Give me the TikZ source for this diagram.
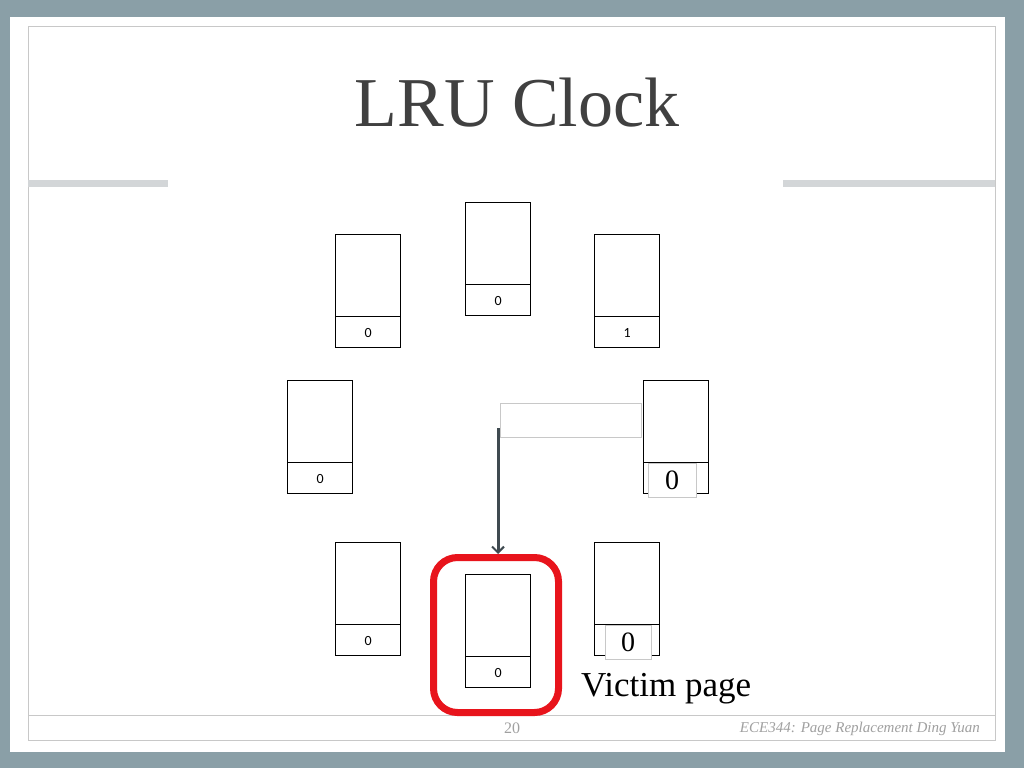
\documentclass[tikz,border=0pt]{standalone}
\usepackage{fontspec}
\setmainfont{Liberation Serif}
\newfontfamily\calib{Carlito}
\usetikzlibrary{arrows.meta}
\definecolor{bgslate}{HTML}{8A9FA7}
\definecolor{framegrey}{HTML}{C8C8C8}
\definecolor{bargrey}{HTML}{D3D6D8}
\definecolor{titlegrey}{HTML}{404040}
\definecolor{handgrey}{HTML}{3F4A50}
\definecolor{selred}{HTML}{E8141C}
\definecolor{footgrey}{HTML}{A0A0A0}
\tikzset{
  pageframe/.style={draw=black, line width=1.2pt, minimum width=65pt, minimum height=113pt, inner sep=0pt, anchor=north west},
  reflabel/.style={font=\calib\fontsize{14}{14}\selectfont, inner sep=0pt},
  overlay0/.style={draw=framegrey, line width=0.8pt, fill=white, minimum width=48pt, minimum height=34pt, inner sep=0pt, font=\fontsize{28}{28}\selectfont},
}
\begin{document}
\begin{tikzpicture}[x=1pt,y=-1pt]
\useasboundingbox (0,0) rectangle (1024,768);
\fill[bgslate] (0,0) rectangle (1024,768);
\fill[white] (10,17) rectangle (1005,752);
\draw[framegrey, line width=1pt] (28,27) rectangle (995,740);
\draw[framegrey, line width=1pt] (28,715) -- (995,715);
\fill[bargrey] (28,179.5) rectangle (168,186.5);
\fill[bargrey] (783,179.5) rectangle (995,186.5);
\node[titlegrey, font=\fontsize{70}{70}\selectfont, inner sep=0pt] (title) at (517,103) {LRU Clock};

% page frames
\node[pageframe] (ftop) at (465,202) {};
\node[pageframe] (ftl) at (335,234) {};
\node[pageframe] (ftr) at (594,234) {};
\node[pageframe] (fl) at (287,380) {};
\node[pageframe] (fr) at (643,380) {};
\node[pageframe] (fbl) at (335,542) {};
\node[pageframe] (fb) at (465,574) {};
\node[pageframe] (fbr) at (594,542) {};
\foreach \f in {ftop,ftl,ftr,fl,fr,fbl,fb,fbr}{
  \draw[line width=1.4pt] ([yshift=32pt]\f.south west) -- ([yshift=32pt]\f.south east);
}
\node[reflabel] (ltop) at ([yshift=15pt]ftop.south) {0};
\node[reflabel] (ltl) at ([yshift=15pt]ftl.south) {0};
\node[reflabel] (ltr) at ([yshift=15pt]ftr.south) {1};
\node[reflabel] (ll) at ([yshift=15pt]fl.south) {0};
\node[reflabel] (lbl) at ([yshift=15pt]fbl.south) {0};
\node[reflabel] (lb) at ([yshift=15pt]fb.south) {0};
\node[overlay0] (lr) at (672,480) {0};
\node[overlay0, minimum width=46pt] (lbr) at (628,642) {0};

% selection
\node[draw=selred, line width=7pt, rounded corners=24pt, minimum width=125pt, minimum height=155pt, inner sep=0pt] (sel) at (496,635) {};

% clock hand
\node[draw=framegrey, line width=0.8pt, minimum width=141pt, minimum height=34pt, inner sep=0pt, anchor=north west] (hand) at (500,403) {};
\coordinate (hstart) at (498,428);
\draw[handgrey, line width=3pt, -{Straight Barb[length=6pt,width=12pt,line width=2pt]}] (hstart) -- (hstart |- sel.north);

\node[font=\fontsize{35}{35}\selectfont, inner sep=0pt, anchor=west] (victim) at (581,689) {Victim page};

\node[footgrey, font=\fontsize{16}{16}\selectfont, inner sep=0pt] (pnum) at (512,728) {20};
\node[footgrey, font=\itshape\fontsize{15}{15}\selectfont, inner sep=0pt, anchor=east] (foot) at (980,729) {ECE344: Page Replacement Ding Yuan};
\end{tikzpicture}
\end{document}
